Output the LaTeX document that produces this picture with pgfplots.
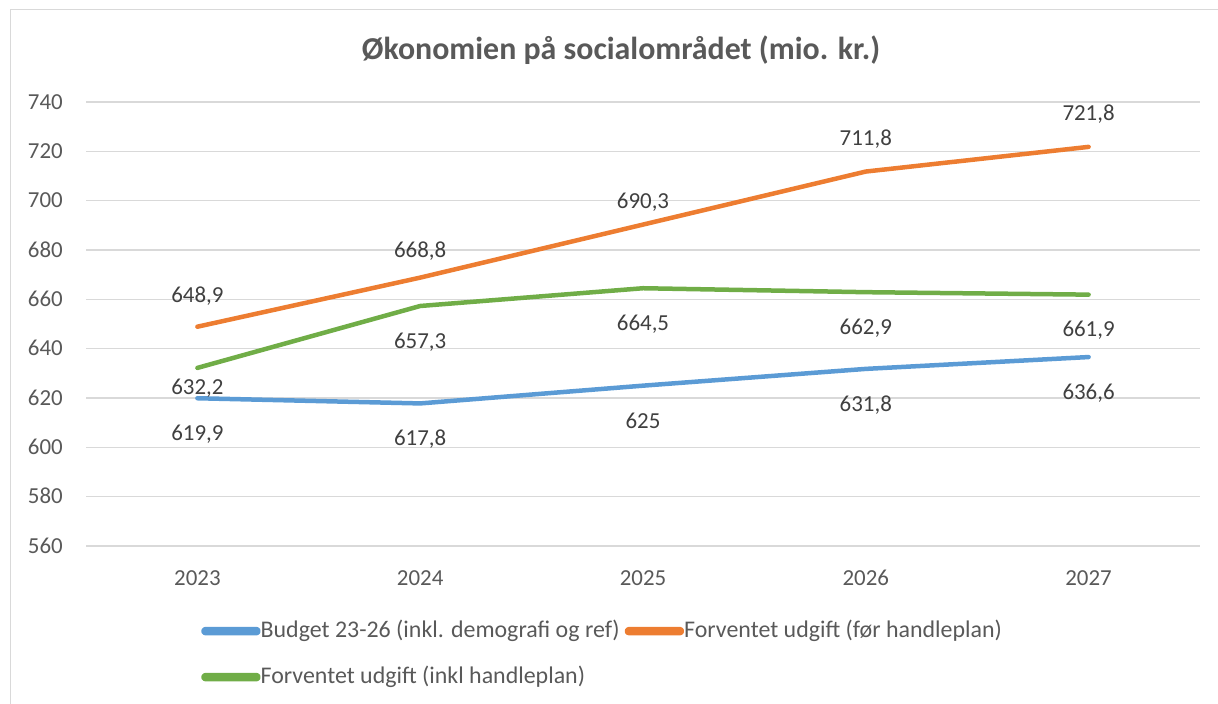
\documentclass[border=0pt]{standalone}
\usepackage{fontspec}
\setmainfont{Carlito}
\usepackage{pgfplots}
\pgfplotsset{compat=1.18}
\usepackage{pgfplotstable}
\definecolor{cblue}{HTML}{5B9BD5}
\definecolor{corange}{HTML}{ED7D31}
\definecolor{cgreen}{HTML}{70AD47}
\definecolor{cgrid}{HTML}{D9D9D9}
\definecolor{ctext}{HTML}{595959}
\definecolor{clab}{HTML}{404040}

\pgfplotstableread{
x y lab dy
0 619.9 619,9 -35
1 617.8 617,8 -35
2 625.0 625 -36
3 631.8 631,8 -35
4 636.6 636,6 -35
}\budget
\pgfplotstableread{
x y lab dy
0 648.9 648,9 31
1 668.8 668,8 27
2 690.3 690,3 23
3 711.8 711,8 33
4 721.8 721,8 34
}\foer
\pgfplotstableread{
x y lab dy
0 632.2 632,2 -19
1 657.3 657,3 -35
2 664.5 664,5 -35
3 662.9 662,9 -35
4 661.9 661,9 -35
}\inkl

\pgfplotsset{
  mylab/.style={nodes near coords, point meta=explicit symbolic,
    visualization depends on={\thisrow{dy}\as\dy},
    every node near coord/.append style={anchor=center, yshift=\dy bp, font=\fontsize{23}{28}\selectfont, text=clab, inner sep=0pt, text height=14.5bp, text depth=0bp}},
  myline/.style={draw=#1, line width=4.5bp, line cap=round, line join=round,
    legend image code/.code={\fill[#1, rounded corners=2bp] (0bp,-1bp) rectangle (55bp,3bp);}},
}

\begin{document}
\begin{tikzpicture}
\path[use as bounding box] (0bp,0bp) rectangle (1218bp,704bp);
\draw[cgrid, line width=1bp] (10.5bp,0bp) -- (10.5bp,694.5bp) -- (1218bp,694.5bp);
\node[font=\fontsize{32}{38}\selectfont\bfseries, text=ctext, inner sep=0pt] at (621bp,654bp) {Økonomien på socialområdet (mio. kr.)};
\begin{axis}[
  at={(86bp,158bp)}, anchor=south west, scale only axis,
  width=1114bp, height=444bp,
  xmin=-0.5, xmax=4.5, ymin=560, ymax=740,
  xtick={0,1,2,3,4}, xticklabels={2023,2024,2025,2026,2027},
  ytick={560,580,...,740},
  axis line style={draw=none}, major tick length=0pt,
  ymajorgrids, major grid style={cgrid, line width=1.3bp},
  /pgf/number format/assume math mode=true,
  tick label style={font=\fontsize{23}{28}\selectfont, text=ctext, inner sep=0pt, text height=14.5bp, text depth=0bp},
  yticklabel style={anchor=east, xshift=-23bp},
  xticklabel style={anchor=center, yshift=-32bp},
  clip=false,
  legend columns=2,
  legend cell align=left,
  legend style={at={(rel axis cs:0.1032,-0.171)}, anchor=north west, draw=none, fill=none, inner sep=0pt,
    font=\fontsize{24}{29}\selectfont, text=ctext, row sep=26bp,
    nodes={inner sep=0pt, text height=15bp, text depth=5bp},
    /tikz/every even column/.append style={column sep=5bp}},
]
\addplot[myline=cblue, mylab] table[x=x,y=y,meta=lab]{\budget};
\addlegendentry{Budget 23-26 (inkl. demografi og ref)}
\addplot[myline=corange, mylab] table[x=x,y=y,meta=lab]{\foer};
\addlegendentry{Forventet udgift (før handleplan)}
\addplot[myline=cgreen, mylab] table[x=x,y=y,meta=lab]{\inkl};
\addlegendentry{Forventet udgift (inkl handleplan)}
\end{axis}
\end{tikzpicture}
\end{document}
